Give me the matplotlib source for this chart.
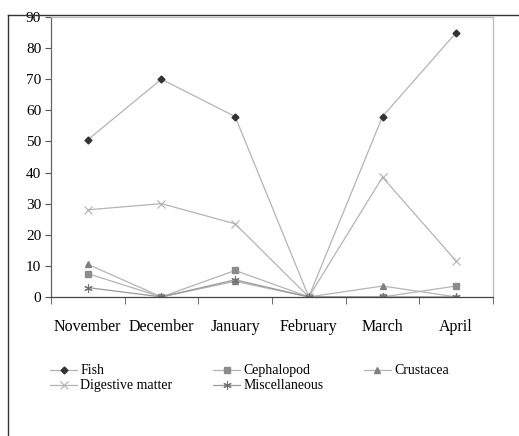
import matplotlib.pyplot as plt
from matplotlib.lines import Line2D

months = ['November', 'December', 'January', 'February', 'March', 'April']

fish = [50.5, 70, 58, 0, 58, 85]
cephalopod = [7.5, 0, 8.5, 0, 0, 3.5]
crustacea = [10.5, 0, 5, 0, 3.5, 0]
digestive = [28, 30, 23.5, 0, 38.5, 11.5]
misc = [3, 0, 5.5, 0, 0, 0]

plt.rcParams['font.family'] = ['Liberation Serif', 'DejaVu Serif']

fig = plt.figure(figsize=(5.19, 4.36), dpi=100)
ax = fig.add_axes([0.098, 0.319, 0.852, 0.642])

x = range(len(months))
lc = '#b4b4b4'
ax.plot(x, fish, color=lc, lw=0.9, marker='D', ms=3.5, mfc='#333333', mec='#333333', label='Fish')
ax.plot(x, cephalopod, color=lc, lw=0.9, marker='s', ms=4.5, mfc='#8c8c8c', mec='#8c8c8c', label='Cephalopod')
ax.plot(x, crustacea, color=lc, lw=0.9, marker='^', ms=4.5, mfc='#808080', mec='#808080', label='Crustacea')
ax.plot(x, digestive, color=lc, lw=0.9, marker='x', ms=6, mew=0.8, mec='#b0b0b0', label='Digestive matter')
ax.plot(x, misc, color='#999999', lw=0.9, marker=(6, 2, 0), ms=6, mew=0.8, mec='#707070', label='Miscellaneous')

ax.set_xlim(-0.5, 5.5)
ax.set_ylim(0, 90)
ax.set_yticks(range(0, 91, 10))
ax.set_xticks(list(x))
ax.set_xticklabels(months)
ax.set_xticks([i - 0.5 for i in range(7)], minor=True)
ax.tick_params(axis='x', which='major', length=0, pad=16, labelsize=11.5)
ax.tick_params(axis='x', which='minor', length=5, color='#555555', direction='out')
ax.tick_params(axis='y', length=4, color='#555555', labelsize=11, pad=3)

ax.spines['left'].set_color('#666666')
ax.spines['bottom'].set_color('#444444')
ax.spines['top'].set_color('#bbbbbb')
ax.spines['right'].set_color('#bbbbbb')
for s in ax.spines.values():
    s.set_linewidth(0.9)

# outer frame (left and top edges)
fig.add_artist(Line2D([8 / 519, 8 / 519], [0, 1 - 15 / 436], color='#333333', lw=1))
fig.add_artist(Line2D([8 / 519, 1], [1 - 15 / 436, 1 - 15 / 436], color='#333333', lw=1))

h, l = ax.get_legend_handles_labels()
order = [0, 3, 1, 4, 2]
fig.legend([h[i] for i in order], [l[i] for i in order], ncol=3,
           loc='upper left', bbox_to_anchor=(0.085, 0.177), frameon=False,
           fontsize=10, handlelength=2.0, handletextpad=0.2,
           columnspacing=2.9, labelspacing=0.15, borderaxespad=0)

fig.savefig('out.png', dpi=100)
